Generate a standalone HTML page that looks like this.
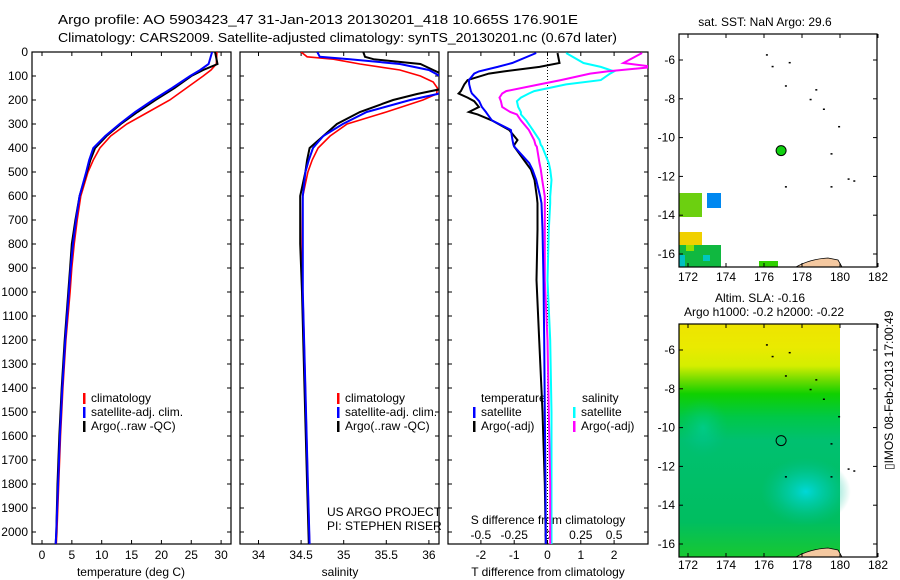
<!DOCTYPE html>
<html><head><meta charset="utf-8"><style>
body{margin:0;background:#fff;}
svg{display:block;font-family:"Liberation Sans",sans-serif;font-size:12px;}
</style></head><body>
<svg id="c" width="900" height="580" viewBox="0 0 900 580">
<text x="58" y="24" font-size="13" textLength="520" lengthAdjust="spacingAndGlyphs">Argo profile: AO 5903423_47 31-Jan-2013 20130201_418 10.665S 176.901E</text>
<text x="58" y="42" font-size="13" textLength="559" lengthAdjust="spacingAndGlyphs">Climatology: CARS2009. Satellite-adjusted climatology: synTS_20130201.nc (0.67d later)</text>
<defs>
<clipPath id="cp1"><rect x="32" y="52" width="199" height="492"/></clipPath>
<clipPath id="cp2"><rect x="240" y="52" width="199" height="492"/></clipPath>
<clipPath id="cp3"><rect x="448" y="52" width="200" height="492"/></clipPath>
<linearGradient id="slaG" x1="0" y1="0" x2="0" y2="1">
<stop offset="0" stop-color="#eee400"/><stop offset="0.1" stop-color="#eaea00"/><stop offset="0.18" stop-color="#d4ee00"/><stop offset="0.24" stop-color="#70dc00"/><stop offset="0.3" stop-color="#10d000"/><stop offset="0.4" stop-color="#00c848"/><stop offset="0.5" stop-color="#00c070"/><stop offset="0.85" stop-color="#00be60"/><stop offset="1" stop-color="#18c830"/>
</linearGradient>
<radialGradient id="slaC" cx="0.5" cy="0.5" r="0.5"><stop offset="0" stop-color="#00d8d8"/><stop offset="0.5" stop-color="#00ccb0" stop-opacity="0.6"/><stop offset="1" stop-color="#00c090" stop-opacity="0"/></radialGradient>
</defs>
<g id="frames"></g>
<g id="lines"></g>
<g id="maps"></g>
<text transform="translate(893,470) rotate(-90)">▯IMOS 08-Feb-2013 17:00:49</text>
</svg>
<script>
// ---- data ----
const depthT = [0,50,75,100,150,200,250,300,350,400,450,500,600,700,800,900,1000,1200,1400,1600,1800,2000,2050];
const tempClim = [29.3,29.2,28.3,27.0,24.2,21.4,17.8,14.2,11.5,9.7,8.6,7.7,6.5,5.9,5.4,5.0,4.7,4.0,3.5,3.1,2.8,2.5,2.4];
const tempSat = [28.5,27.9,26.5,24.8,21.8,18.6,15.6,13.0,10.6,8.6,7.9,7.4,6.3,5.7,5.2,4.8,4.5,3.9,3.4,3.0,2.7,2.4,2.3];
const tempArgo = [29.0,29.4,27.0,25.0,22.2,19.0,16.0,13.2,10.8,8.9,8.1,7.5,6.3,5.6,5.0,4.7,4.4,3.8,3.3,2.9,2.6,2.4,2.3];
const depthS = [0,20,30,50,75,100,125,150,175,200,250,300,350,400,450,500,600,800,1000,1400,1800,2050];
const salClim = [34.50,34.57,34.88,35.19,35.66,35.90,36.05,36.10,36.09,35.93,35.50,35.04,34.84,34.70,34.63,34.58,34.52,34.51,34.52,34.55,34.58,34.60];
const salSat = [34.69,34.72,35.07,35.66,36.00,36.13,36.25,36.30,36.10,35.78,35.27,34.99,34.76,34.64,34.59,34.55,34.52,34.52,34.52,34.55,34.58,34.60];
const salArgo = [35.23,35.25,35.35,35.90,36.05,36.20,36.30,36.20,35.86,35.58,35.19,34.92,34.76,34.60,34.57,34.55,34.49,34.49,34.51,34.54,34.57,34.59];
const depthD = [4,46,62,81,90,117,135,163,173,190,205,229,250,260,285,325,367,387,394,463,490,533,602,630,740,950,1200,1500,1800,2050];
const dTsat = [-0.34,-1.06,-1.5,-2.06,-2.2,-2.36,-2.35,-2.3,-2.27,-2.15,-2.05,-1.97,-1.85,-1.8,-1.67,-1.1,-1.05,-1.02,-1.0,-0.55,-0.45,-0.34,-0.22,-0.18,-0.15,-0.12,-0.1,-0.08,-0.06,-0.05];
const dTargo = [0.3,0.36,-0.24,-1.3,-1.76,-2.4,-2.5,-2.6,-2.67,-2.4,-2.2,-2.06,-2.36,-2.1,-1.67,-1.15,-0.9,-1.0,-1.0,-0.64,-0.5,-0.39,-0.32,-0.3,-0.3,-0.33,-0.25,-0.15,-0.08,-0.05];
const dSsat = [0.14,0.27,0.4,0.5,0.47,0.4,0.14,-0.1,-0.14,-0.2,-0.23,-0.22,-0.2,-0.2,-0.16,-0.11,-0.06,-0.05,-0.04,0.01,0.02,0.03,0.02,0.02,0.01,0.0,0.02,0.03,0.03,0.03];
const dSargo = [0.71,0.57,0.8,0.45,0.32,0.1,-0.06,-0.31,-0.34,-0.36,-0.35,-0.34,-0.28,-0.23,-0.2,-0.14,-0.1,-0.09,-0.08,-0.06,-0.05,-0.04,-0.02,-0.02,-0.02,-0.02,0.0,0.01,0.02,0.02];
const depthTicks = [0,100,200,300,400,500,600,700,800,900,1000,1100,1200,1300,1400,1500,1600,1700,1800,1900,2000];
const tempTicks = [0,5,10,15,20,25,30];
const salTicks = [34,34.5,35,35.5,36];
const dTTicks = [-2,-1,0,1,2];
const dSTicks = [-0.5,-0.25,0,0.25,0.5];
const lonTicks = [172,174,176,178,180,182];
const latTicks = [-6,-8,-10,-12,-14,-16];
const floatLon = 176.9, floatLat = -10.67;

// ---- axes ----
const NS='http://www.w3.org/2000/svg';
const svg=document.getElementById('c');
const yD = d => 52 + d*0.24;
const xT = t => 42 + t*5.97;
const xS = s => 258.5 + (s-34)*85.2;
const xDT = t => 547.5 + t*33.3;
const xDS = s => 547.5 + s*133.2;
const xLon1 = l => 688 + (l-172)*19.0;
const yLat1 = l => 60 + (-6-l)*19.4;
const yLat2 = l => 350 + (-6-l)*19.4;

function mk(tag, attrs, parent){const e=document.createElementNS(NS,tag);for(const k in attrs)e.setAttribute(k,attrs[k]);(parent||svg).appendChild(e);return e;}
const frames=document.getElementById('frames'), lines=document.getElementById('lines'), maps=document.getElementById('maps');

function panel(x0,x1,name){
  const r=mk('rect',{x:x0,y:52,width:x1-x0,height:492,fill:'none',stroke:'#000','stroke-width':1.2},frames);
  
  
  depthTicks.forEach(d=>{
    if(d===0)return;
    mk('line',{x1:x0,x2:x0+4,y1:yD(d),y2:yD(d),stroke:'#000'},frames);
    mk('line',{x1:x1-4,x2:x1,y1:yD(d),y2:yD(d),stroke:'#000'},frames);
  });
}
panel(32,231,'temperature-panel');panel(240,439,'salinity-panel');panel(448,648,'difference-panel');
depthTicks.forEach(d=>{
  const t=mk('text',{x:28,y:yD(d)+4,'text-anchor':'end'},frames);t.textContent=d;
  
  
});
function xticks(arr,fx,yTxt,tickTop){
  arr.forEach(v=>{
    const x=fx(v);
    mk('line',{x1:x,x2:x,y1:544,y2:540,stroke:'#000'},frames);
    if(tickTop) mk('line',{x1:x,x2:x,y1:52,y2:56,stroke:'#000'},frames);
    const t=mk('text',{x:x,y:yTxt,'text-anchor':'middle'},frames);t.textContent=v;
    
    
  });
}
xticks(tempTicks,xT,559,true);xticks(salTicks,xS,559,true);xticks(dTTicks,xDT,559,true);
dSTicks.forEach(v=>{const t=mk('text',{x:xDS(v),y:539,'text-anchor':'middle'},frames);t.textContent=v;
  
  });
function label(x,y,txt,name,anchor){const t=mk('text',{x:x,y:y,'text-anchor':anchor||'middle'},frames);t.textContent=txt;
  
  }
label(131,576,'temperature (deg C)','temperature-axis-title');
label(340,576,'salinity','salinity-axis-title');
label(548,576,'T difference from climatology','t-diff-axis-title');
label(548,524,'S difference from climatology','s-diff-axis-title');
label(327,516,'US ARGO PROJECT','project-label','start');
label(327,530,'PI: STEPHEN RISER','pi-label','start');
mk('line',{x1:xDT(0),x2:xDT(0),y1:52,y2:544,stroke:'#000','stroke-dasharray':'1,2'},frames);

function series(xs,ds,fx,color,clip,name,w){
  const p=xs.map((v,i)=>(i?'L':'M')+fx(v).toFixed(1)+','+yD(ds[i]).toFixed(1)).join('');
  const e=mk('path',{d:p,fill:'none',stroke:color,'stroke-width':w||2,'clip-path':'url(#'+clip+')'},lines);
  
  
}
series(tempClim,depthT,xT,'#f00','cp1','temp-climatology-line',1.6);
series(tempArgo,depthT,xT,'#000','cp1','temp-argo-line',2);
series(tempSat,depthT,xT,'#00f','cp1','temp-satellite-line',2);
series(salClim,depthS,xS,'#f00','cp2','sal-climatology-line',1.6);
series(salArgo,depthS,xS,'#000','cp2','sal-argo-line',2);
series(salSat,depthS,xS,'#00f','cp2','sal-satellite-line',2);
series(dSsat,depthD,xDS,'#0ff','cp3','s-diff-satellite-line',2);
series(dSargo,depthD,xDS,'#f0f','cp3','s-diff-argo-line',2);
series(dTargo,depthD,xDT,'#000','cp3','t-diff-argo-line',2);
series(dTsat,depthD,xDT,'#00f','cp3','t-diff-satellite-line',2);

function legend(x,y,color,txt,name){
  mk('rect',{x:x,y:y-9,width:2.5,height:11,fill:color},frames);
  const t=mk('text',{x:x+8,y:y},frames);t.textContent=txt;
  
  
}
legend(83,402,'#f00','climatology','legend-climatology');
legend(83,416,'#00f','satellite-adj. clim.','legend-satellite');
legend(83,430,'#000','Argo(..raw -QC)','legend-argo');
legend(337,402,'#f00','climatology','legend2-climatology');
legend(337,416,'#00f','satellite-adj. clim.','legend2-satellite');
legend(337,430,'#000','Argo(..raw -QC)','legend2-argo');
label(481,402,'temperature','legend-temperature-heading','start');
label(582,402,'salinity','legend-salinity-heading','start');
legend(473,416,'#00f','satellite','legend-t-satellite');
legend(473,430,'#000','Argo(-adj)','legend-t-argo');
legend(573,416,'#0ff','satellite','legend-s-satellite');
legend(573,430,'#f0f','Argo(-adj)','legend-s-argo');

// ---- maps ----
function mapFrame(y0,y1,yLat,name,lonY){
  const r=mk('rect',{x:679,y:y0,width:198,height:y1-y0,fill:'none',stroke:'#000','stroke-width':1.2},maps);
  
  
  latTicks.forEach(l=>{const y=yLat(l);mk('line',{x1:679,x2:683,y1:y,y2:y,stroke:'#000'},maps);mk('line',{x1:873,x2:877,y1:y,y2:y,stroke:'#000'},maps);
    const t=mk('text',{x:675,y:y+4,'text-anchor':'end'},maps);t.textContent=l;
    
    });
  lonTicks.forEach(l=>{const x=xLon1(l);mk('line',{x1:x,x2:x,y1:y1,y2:y1-4,stroke:'#000'},maps);mk('line',{x1:x,x2:x,y1:y0,y2:y0+4,stroke:'#000'},maps);
    const t=mk('text',{x:x,y:lonY,'text-anchor':'middle'},maps);t.textContent=l;
    
    });
}
// SST map cells
[[679,193,23,24,'#6cd010'],[707,193,14,15,'#0088f0'],[679,232,23,13,'#f0d000'],[679,245,42,22,'#10b840'],[686,245,8,6,'#90e000'],[679,255,6,12,'#00c0c0'],[703,255,7,6,'#00c8c0'],[759,261,19,6,'#30d000']].forEach(c=>mk('rect',{x:c[0],y:c[1],width:c[2],height:c[3],fill:c[4]},maps));
// SLA map field
mk('rect',{x:679,y:324,width:161,height:233,fill:'url(#slaG)'},maps);
mk('ellipse',{cx:xLon1(178.2),cy:yLat2(-13.3),rx:45,ry:34,fill:'url(#slaC)'},maps);
mk('ellipse',{cx:xLon1(172.8),cy:yLat2(-10.0),rx:25,ry:30,fill:'url(#slaC)',opacity:0.35},maps);
// coast
[267,557].forEach(yb=>{
  const c=mk('path',{d:`M796,${yb} Q810,${yb-8} 828,${yb-9} L838,${yb-7} L842,${yb}Z`,fill:'#f4c8a0',stroke:'#000','stroke-width':0.8},maps);
  
  
});
mapFrame(34,267,yLat1,'sst-map',281);
mapFrame(324,557,yLat2,'sla-map',569);
const f1=mk('circle',{cx:xLon1(floatLon),cy:yLat1(floatLat),r:5,fill:'#10d010',stroke:'#000'},maps);


const f2=mk('circle',{cx:xLon1(floatLon),cy:yLat2(floatLat),r:5,fill:'none',stroke:'#000'},maps);


[[176.1,-5.7],[176.4,-6.3],[177.3,-6.1],[177.1,-7.3],[178.7,-7.5],[178.4,-8.0],[179.1,-8.5],[179.9,-9.4],[179.5,-10.8],[177.1,-12.5],[179.5,-12.5],[180.4,-12.1],[180.7,-12.2]].forEach(p=>{
  mk('rect',{x:xLon1(p[0]),y:yLat1(p[1]),width:2,height:1.5,fill:'#000'},maps);
  mk('rect',{x:xLon1(p[0]),y:yLat2(p[1]),width:2,height:1.5,fill:'#000'},maps);
});
label(765,26,'sat. SST: NaN Argo: 29.6','sst-map-title');
label(760,302,'Altim. SLA: -0.16','sla-map-title');
label(764,316,'Argo h1000: -0.2 h2000: -0.22','sla-map-subtitle');
</script>
</body></html>
